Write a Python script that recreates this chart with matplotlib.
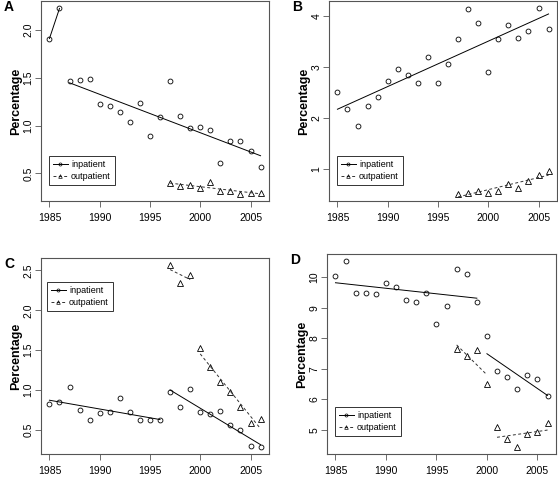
import numpy as np
import matplotlib
matplotlib.use("Agg")
import matplotlib.pyplot as plt

plt.rcParams['font.family'] = ['Liberation Sans', 'DejaVu Sans']

years = np.arange(1985, 2007)
out_years = np.arange(1997, 2007)

# A
a_in = [1.91, 2.225, 1.469, 1.476, 1.486, 1.222, 1.208, 1.146, 1.035, 1.236, 0.889,
        1.086, 1.468, 1.097, 0.979, 0.99, 0.955, 0.608, 0.837, 0.844, 0.737, 0.563]
a_out = [0.40, 0.373, 0.383, 0.348, 0.407, 0.314, 0.32, 0.29, 0.30, 0.30]
# B
b_in = [2.51, 2.18, 1.85, 2.23, 2.42, 2.72, 2.97, 2.85, 2.68, 3.19, 2.69,
        3.07, 3.56, 4.13, 3.87, 2.90, 3.56, 3.82, 3.57, 3.70, 4.15, 3.74]
b_out = [0.52, 0.53, 0.57, 0.54, 0.58, 0.70, 0.63, 0.76, 0.89, 0.96]
# C
c_in = [0.82, 0.847, 1.04, 0.75, 0.63, 0.714, 0.72, 0.895, 0.726, 0.629, 0.625,
        0.629, 0.97, 0.79, 1.02, 0.72, 0.70, 0.735, 0.557, 0.50, 0.305, 0.29]
c_out = [2.565, 2.34, 2.44, 1.524, 1.29, 1.10, 0.97, 0.785, 0.585, 0.64]
# D
d_in = [10.05, 10.52, 9.48, 9.48, 9.45, 9.80, 9.68, 9.26, 9.19, 9.48, 8.46,
        9.06, 10.28, 10.12, 9.20, 8.08, 6.94, 6.74, 6.33, 6.80, 6.66, 6.12]
d_out = [7.65, 7.42, 7.60, 6.50, 5.10, 4.70, 4.45, 4.85, 4.92, 5.22]

# fit segments (start year, end year)
a_in_seg = [(1985, 1986), (1987, 2006)]
a_out_seg = [(1997, 2006)]
b_in_seg = [(1985, 2006)]
b_out_seg = [(1997, 2006)]
c_in_seg = [(1985, 1996), (1997, 2006)]
c_out_seg = [(1997, 1999), (2000, 2006)]
d_in_seg = [(1985, 1999), (2000, 2006)]
d_out_seg = [(1997, 2000), (2001, 2006)]

# label, inpatient, outpatient, fits, yticks, fmt, legend loc, legend offset px, box px
panels = [
    ('A', a_in, a_out, a_in_seg, a_out_seg, [0.5, 1.0, 1.5, 2.0], '%.1f', 'lower left',
     (8, 16), [41, 1, 269, 201]),
    ('B', b_in, b_out, b_in_seg, b_out_seg, [1, 2, 3, 4], '%d', 'lower left',
     (8, 16), [329, 1, 557, 201]),
    ('C', c_in, c_out, c_in_seg, c_out_seg, [0.5, 1.0, 1.5, 2.0, 2.5], '%.1f', 'upper left',
     (6, 24), [41, 258, 269, 454]),
    ('D', d_in, d_out, d_in_seg, d_out_seg, [5, 6, 7, 8, 9, 10], '%d', 'lower left',
     (8, 18), [327, 254, 556, 454]),
]

W, H = 558, 479
fig = plt.figure(figsize=(W / 100, H / 100), dpi=100)
dash = (0, (3, 2.5))
spine_col = '#555555'

for label, vin, vout, seg_in, seg_out, yt, fmt, loc, off, box in panels:
    x0, y0, x1, y1 = box
    wpx, hpx = x1 - x0, y1 - y0
    ax = fig.add_axes([x0 / W, 1 - y1 / H, wpx / W, hpx / H])
    vin = np.array(vin)
    vout = np.array(vout)
    ax.plot(years, vin, 'o', mfc='none', mec='black', ms=3.5, mew=0.6)
    ax.plot(out_years, vout, '^', mfc='none', mec='black', ms=4.2, mew=0.6)
    for s, e in seg_in:
        m = (years >= s) & (years <= e)
        k, b = np.polyfit(years[m], vin[m], 1)
        ax.plot([s, e], [k * s + b, k * e + b], '-', color='black', lw=0.7)
    for s, e in seg_out:
        m = (out_years >= s) & (out_years <= e)
        k, b = np.polyfit(out_years[m], vout[m], 1)
        ax.plot([s, e], [k * s + b, k * e + b], linestyle=dash, color='#333333', lw=0.7)
    allv = np.concatenate([vin, vout])
    r = allv.max() - allv.min()
    ax.set_ylim(allv.min() - 0.04 * r, allv.max() + 0.04 * r)
    ax.set_xlim(1985 - 0.04 * 21, 2006 + 0.04 * 21)
    ax.set_xticks([1985, 1990, 1995, 2000, 2005])
    ax.set_yticks(yt)
    ax.set_yticklabels([fmt % v for v in yt], rotation=90, va='center')
    ax.tick_params(direction='out', length=4, width=0.6, color=spine_col,
                   labelsize=7.5, pad=1.5)
    ax.tick_params(axis='x', pad=4.5)
    for sp in ax.spines.values():
        sp.set_color(spine_col)
        sp.set_linewidth(0.8)
    ax.set_ylabel('Percentage', fontsize=9, fontweight='bold')
    ax.yaxis.set_label_coords(-19 / wpx, 0.5)
    h1, = ax.plot([], [], '-', color='black', lw=0.7, marker='o', ms=2.2,
                  mfc='none', mec='black', mew=0.5)
    h2, = ax.plot([], [], linestyle=dash, color='#333333', lw=0.7, marker='^', ms=2.6,
                  mfc='none', mec='black', mew=0.5)
    ax_x = off[0] / wpx
    ax_y = off[1] / hpx if loc == 'lower left' else 1 - off[1] / hpx
    leg = ax.legend([h1, h2], ['inpatient', 'outpatient'], loc=loc,
                    bbox_to_anchor=(ax_x, ax_y), fontsize=6.5,
                    frameon=True, fancybox=False, borderpad=0.45, labelspacing=0.3,
                    handlelength=1.6, handletextpad=0.4, borderaxespad=0)
    leg.get_frame().set_edgecolor('black')
    leg.get_frame().set_linewidth(0.7)
    fig.text((x0 - 37) / W, 1 - (y0 + 6) / H, label, fontsize=10, fontweight='bold',
             ha='left', va='center')

fig.savefig('out.png', dpi=100)
